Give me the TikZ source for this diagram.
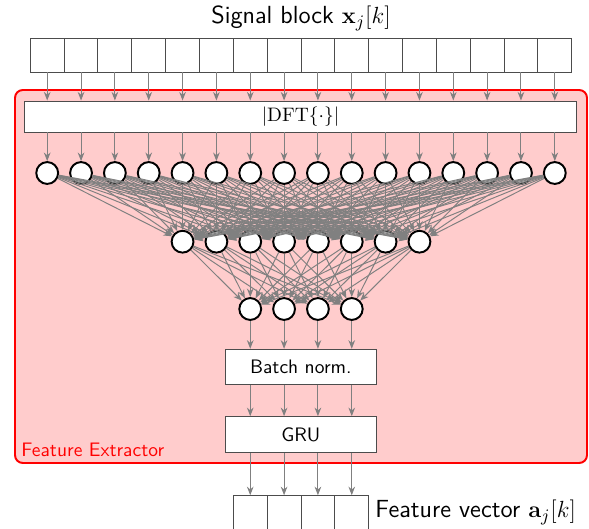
\documentclass[tikz,border=0pt]{standalone}
\usepackage{amsmath,amssymb}
\usepackage{tikz}
\usetikzlibrary{arrows.meta,positioning}

\begin{document}
\begin{tikzpicture}[
  x=0.513pt,y=-0.513pt,
  font=\sffamily,
  cell/.style={draw=black!70,fill=white,line width=0.5pt,minimum width=17.36pt,
               minimum height=17.44pt,inner sep=0pt},
  neuron/.style={circle,draw=black,fill=white,line width=1pt,minimum size=11.2pt,inner sep=0pt},
  layer/.style={draw=black!70,fill=white,line width=0.5pt,inner sep=0pt,align=center},
  ar/.style={-{Stealth[length=4.4pt,width=3.4pt]},draw=black!50,line width=0.5pt}]

\useasboundingbox (0,0) rectangle (589,529);

% feature extractor frame
\draw[red,fill=red!20,line width=1pt,rounded corners=4pt] (15,90) rectangle (587,463);
\node[anchor=base west,text=red,inner sep=0pt] (fe) at (21,457) {Feature Extractor};

% input block and DFT
\foreach \i in {1,...,16}
  \node[cell] (in-\i) at ({47.2+33.84*(\i-1)},55) {};
\node[anchor=base,inner sep=0pt,font=\sffamily\fontsize{12.7}{15}\selectfont] (sig) at (301,24)
  {Signal block $\mathbf{x}_j[k]$};
\node[layer,minimum width=282.8pt,minimum height=15.9pt] (dft) at (300.5,116.5)
  {$|\mathrm{DFT}\{\cdot\}|$};

% dense layers
\foreach \i in {1,...,16}
  \node[neuron] (l1-\i) at ({47.2+33.84*(\i-1)},173) {};
\foreach \i in {5,...,12}
  \node[neuron] (l2-\i) at ({47.2+33.84*(\i-1)},241.7) {};
\foreach \i in {7,...,10}
  \node[neuron] (l3-\i) at ({47.2+33.84*(\i-1)},309) {};

% batch norm, GRU, output
\node[layer,minimum width=77.1pt,minimum height=18pt] (bn) at (300.85,366.8) {Batch norm.};
\node[layer,minimum width=77.1pt,minimum height=18.3pt] (gru) at (300.85,434.5) {GRU};
\foreach \i in {7,...,10}
  \node[cell] (out-\i) at ({47.2+33.84*(\i-1)},512.7) {};
\node[anchor=base west,inner sep=0pt,font=\sffamily\fontsize{12.7}{15}\selectfont] (feat) at (375,518)
  {Feature vector $\mathbf{a}_j[k]$};

% connections
\foreach \i in {1,...,16} {
  \draw[ar] (in-\i) -- (in-\i |- dft.north);
  \draw[ar] (l1-\i |- dft.south) -- (l1-\i);
  \foreach \j in {5,...,12}
    \draw[ar] (l1-\i) -- (l2-\j);
}
\foreach \i in {5,...,12}
  \foreach \j in {7,...,10}
    \draw[ar] (l2-\i) -- (l3-\j);
\foreach \i in {7,...,10} {
  \draw[ar] (l3-\i) -- (l3-\i |- bn.north);
  \draw[ar] (l3-\i |- bn.south) -- (l3-\i |- gru.north);
  \draw[ar] (l3-\i |- gru.south) -- (out-\i);
}
\end{tikzpicture}
\end{document}
